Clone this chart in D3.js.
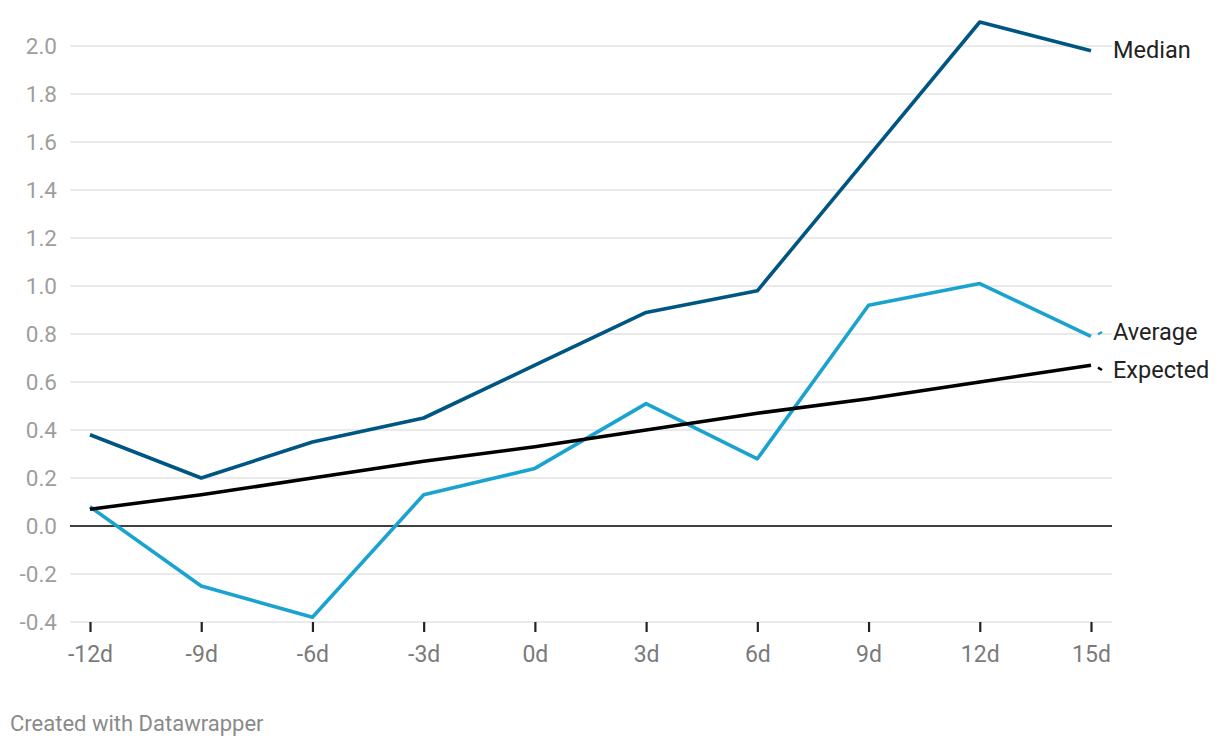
<!DOCTYPE html>
<html>
<head>
<meta charset="utf-8">
<script src="https://d3js.org/d3.v7.min.js"></script>
<style>
  body { margin: 0; background: #fff; font-family: Roboto, sans-serif; }
</style>
</head>
<body>
<script>
var w = 1220, h = 748;

var days = ["-12d", "-9d", "-6d", "-3d", "0d", "3d", "6d", "9d", "12d", "15d"];
var median = [0.38, 0.20, 0.35, 0.45, 0.67, 0.89, 0.98, 1.54, 2.10, 1.98];
var average = [0.08, -0.25, -0.38, 0.13, 0.24, 0.51, 0.28, 0.92, 1.01, 0.79];
var expected = [0.07, 0.13, 0.20, 0.27, 0.33, 0.40, 0.47, 0.53, 0.60, 0.67];
var yTicks = [-0.4, -0.2, 0, 0.2, 0.4, 0.6, 0.8, 1.0, 1.2, 1.4, 1.6, 1.8, 2.0];

var series = [
  { name: "Median", values: median, color: "#005682", labelY: 50 },
  { name: "Average", values: average, color: "#1ba3d0", labelY: 332 },
  { name: "Expected", values: expected, color: "#000000", labelY: 370 }
];

var svg = d3.select("body").append("svg")
  .attr("width", w)
  .attr("height", h);

var x = d3.scalePoint()
  .domain(days)
  .range([90, 1091]);

var y = d3.scaleLinear()
  .domain([-0.4, 2.0])
  .range([622, 46]);

var gridLeft = 70, gridRight = 1112;

// gridlines
svg.append("g").selectAll("line")
  .data(yTicks)
  .enter().append("line")
  .attr("x1", gridLeft)
  .attr("x2", gridRight)
  .attr("y1", function(d) { return y(d); })
  .attr("y2", function(d) { return y(d); })
  .attr("stroke", function(d) { return d === 0 ? "#000" : "#e3e3e3"; })
  .attr("stroke-width", function(d) { return d === 0 ? 1.6 : 1.4; });

// y labels
svg.append("g").selectAll("text")
  .data(yTicks)
  .enter().append("text")
  .attr("x", 57)
  .attr("y", function(d) { return y(d); })
  .attr("dy", "0.35em")
  .attr("text-anchor", "end")
  .attr("font-size", "22.5px")
  .attr("fill", "#9e9e9e")
  .text(function(d) { return d.toFixed(1); });

// x axis
var xAxis = d3.axisBottom(x).tickSize(10).tickPadding(14);
var gx = svg.append("g")
  .attr("transform", "translate(0,622)")
  .call(xAxis);
gx.select(".domain").remove();
gx.selectAll(".tick line").attr("stroke", "#222").attr("stroke-width", 2.2);
gx.selectAll(".tick text")
  .attr("font-family", "Roboto, sans-serif")
  .attr("font-size", "23px")
  .attr("fill", "#7a7a7a");

var line = d3.line()
  .x(function(d, i) { return x(days[i]); })
  .y(function(d) { return y(d); });

svg.append("g").selectAll("path")
  .data(series)
  .enter().append("path")
  .attr("d", function(s) { return line(s.values); })
  .attr("fill", "none")
  .attr("stroke", function(s) { return s.color; })
  .attr("stroke-width", 3.6)
  .attr("stroke-linejoin", "round");

// connectors to labels
var lastX = x(days[days.length - 1]);
svg.append("g").selectAll("line")
  .data(series.filter(function(s) { return Math.abs(y(s.values[s.values.length - 1]) - s.labelY) > 3; }))
  .enter().append("line")
  .attr("x1", lastX + 7)
  .attr("x2", lastX + 11)
  .attr("y1", function(s) { var ly = y(s.values[s.values.length - 1]); return ly + (s.labelY - ly) * 0.5; })
  .attr("y2", function(s) { return s.labelY; })
  .attr("stroke", function(s) { return s.color; })
  .attr("stroke-width", 2.4);

svg.append("g").selectAll("text")
  .data(series)
  .enter().append("text")
  .attr("x", 1113)
  .attr("y", function(s) { return s.labelY; })
  .attr("dy", "0.35em")
  .attr("font-size", "23.5px")
  .attr("fill", "#222")
  .text(function(s) { return s.name; });

svg.append("text")
  .attr("x", 10)
  .attr("y", 731)
  .attr("font-size", "22px")
  .attr("fill", "#8a8a8a")
  .text("Created with Datawrapper");
</script>
</body>
</html>
